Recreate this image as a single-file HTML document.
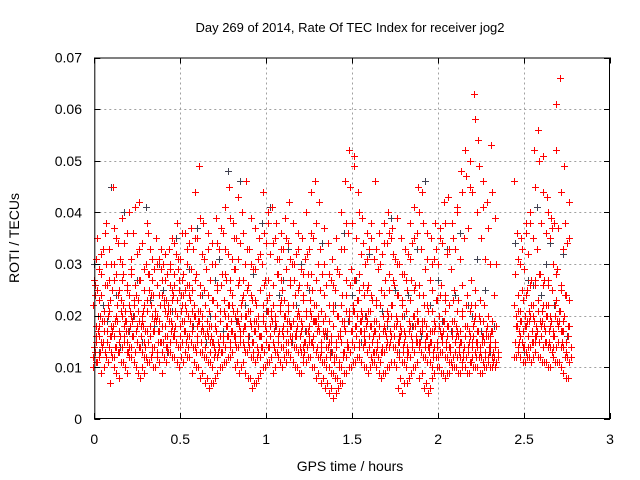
<!DOCTYPE html>
<html><head><meta charset="utf-8"><style>
body{margin:0;background:#fff}
svg{display:block;font-family:"Liberation Sans",sans-serif}
</style></head><body>
<svg id="chart" width="640" height="480" viewBox="0 0 640 480" xmlns="http://www.w3.org/2000/svg">
<rect width="640" height="480" fill="#fff"/>
<text x="350" y="32" font-size="13" text-anchor="middle" fill="#000">Day 269 of 2014, Rate Of TEC Index for receiver jog2</text>
<text x="350" y="471" font-size="14" text-anchor="middle" fill="#000">GPS time / hours</text>
<text transform="translate(19,238) rotate(-90)" font-size="14" text-anchor="middle" fill="#000">ROTI / TECUs</text>
<g id="grid"></g><g id="gray"></g><g id="red"></g><g id="axes"></g>
</svg>
<script>
const xTicks=[0,0.5,1,1.5,2,2.5,3];
const xTickLabels=["0","0.5","1","1.5","2","2.5","3"];
const yTicks=[0,0.01,0.02,0.03,0.04,0.05,0.06,0.07];
const yTickLabels=["0","0.01","0.02","0.03","0.04","0.05","0.06","0.07"];
const times=[0.000,0.025,0.050,0.075,0.100,0.125,0.150,0.175,0.200,0.225,0.250,0.275,0.300,0.325,0.350,0.375,0.400,0.425,0.450,0.475,0.500,0.525,0.550,0.575,0.600,0.625,0.650,0.675,0.700,0.725,0.750,0.775,0.800,0.825,0.850,0.875,0.900,0.925,0.950,0.975,1.000,1.025,1.050,1.075,1.100,1.125,1.150,1.175,1.200,1.225,1.250,1.275,1.300,1.325,1.350,1.375,1.400,1.425,1.450,1.475,1.500,1.525,1.550,1.575,1.600,1.625,1.650,1.675,1.700,1.725,1.750,1.775,1.800,1.825,1.850,1.875,1.900,1.925,1.950,1.975,2.000,2.025,2.050,2.075,2.100,2.125,2.150,2.175,2.200,2.225,2.250,2.275,2.300,2.325,2.450,2.475,2.500,2.525,2.550,2.575,2.600,2.625,2.650,2.675,2.700,2.725,2.750];
// ROTI values (milli-TECU) per epoch row
const rotiRed=[
[10,14,18,22,27,31,12],[11,16,20,25,29,13,35],[9,15,19,24,33,17,28],[12,17,21,38,26,14,30],[7,13,18,23,30,45,16],[10,14,22,27,35,19,12],[8,16,20,25,31,39,13],[11,15,19,28,34,17,22],[9,14,21,26,40,18,13],[12,16,23,29,36,11,20],
[10,15,19,24,32,42,17],[8,13,18,27,34,21,14],[9,12,17,22,30,38,15],[11,16,20,25,33,13,28],[10,14,19,24,29,35,17],[12,17,22,26,31,15,20],[9,15,21,27,30,18,24],[11,16,19,23,28,33,14],[13,18,24,29,35,16,21],[12,15,20,26,32,38,17],
[10,14,22,27,31,19,25],[11,17,21,28,36,15,24],[12,16,23,30,34,19,26],[9,14,20,25,33,44,17],[10,15,19,28,35,49,13],[8,13,17,24,32,38,21],[7,12,16,22,29,36,14],[6,11,15,21,27,34,18],[7,13,17,23,30,39,15],[9,14,19,26,33,16,22],
[10,15,20,28,36,41,13],[11,16,22,27,32,45,18],[12,17,21,25,31,38,14],[10,14,19,29,35,43,16],[9,15,23,27,34,40,18],[11,13,20,24,30,46,17],[8,14,18,26,33,39,21],[6,12,17,23,29,37,15],[7,13,16,22,31,35,19],[9,14,20,25,30,44,16],
[10,15,21,27,34,40,18],[11,16,19,24,32,41,14],[9,13,18,26,35,38,22],[12,17,23,28,31,36,15],[10,14,20,25,33,39,17],[11,15,19,29,34,42,13],[12,16,22,27,30,38,18],[10,14,21,24,32,36,16],[9,13,18,26,29,35,20],[11,15,17,23,31,40,14],
[12,16,20,28,33,44,17],[10,14,19,25,35,46,15],[8,12,17,22,30,42,19],[7,11,16,21,28,37,14],[6,10,14,20,26,34,17],[5,9,13,19,27,31,15],[4,8,12,18,25,35,22],[6,11,15,20,28,40,16],[7,13,17,24,33,46,19],[9,14,19,27,36,52,21],
[10,15,21,29,38,51,17],[11,16,23,27,35,44,18],[12,17,20,25,32,39,14],[10,15,19,24,30,36,16],[9,14,18,26,33,38,21],[11,13,17,23,31,46,15],[10,12,16,22,29,36,19],[8,14,18,25,32,38,13],[9,15,20,27,34,40,17],[10,16,22,28,35,37,14],
[11,14,19,26,31,39,18],[6,12,17,24,30,35,15],[5,11,16,23,28,33,20],[7,13,18,25,32,38,14],[9,14,20,27,34,41,16],[10,15,19,26,36,45,18],[8,13,17,24,33,44,15],[6,12,16,22,29,36,19],[5,11,15,21,27,35,14],[8,14,18,25,31,38,17],
[10,12,17,23,30,37,15],[9,13,19,26,34,42,16],[8,12,18,24,32,43,21],[9,11,16,22,29,38,14],[10,13,17,25,33,41,19],[9,12,15,23,31,48,16],[10,14,18,26,35,52,21],[9,13,16,24,37,50,18],[11,15,19,27,44,63,22],[10,14,17,25,40,54,20],
[9,12,16,23,35,46,19],[10,13,18,22,31,42,15],[11,14,17,20,30,53,16],[10,12,15,19,24,39,17],
[12,15,18,22,28,36,46],[13,16,19,24,30,35,21],[11,14,18,23,29,38,17],[12,16,20,25,32,40,19],[11,15,19,27,35,52,22],[13,17,21,26,33,56,16],[12,16,22,28,38,51,19],[11,15,20,27,36,43,18],[10,14,19,26,35,39,22],[12,16,23,30,38,61,17],[11,15,21,29,37,66,19],[10,14,20,25,33,49,17],[8,12,18,24,34,42,15]];
// second set of epochs, half a step later
const rotiRedB=[
[13,16,20,24,11,17,26,15],[12,15,19,23,28,14,18,32],[10,13,17,21,26,15,19,36],[11,14,18,22,27,16,20,33],[12,16,19,25,30,14,17,37],[9,13,17,20,24,15,28,34],[11,14,18,23,27,16,21,30],[10,15,17,21,25,13,19,36],[12,14,19,24,28,16,22,31],[11,13,18,22,26,15,20,41],
[9,14,16,21,27,18,23,33],[10,12,17,20,25,14,19,29],[11,15,18,23,28,16,21,36],[12,14,19,22,27,17,24,31],[10,13,17,21,26,15,20,30],[11,15,18,24,29,13,19,33],[12,16,20,23,27,14,22,32],[13,15,19,22,26,17,21,30],[12,16,21,25,28,18,23,34],[11,14,18,23,29,16,20,31],
[12,15,19,24,27,17,21,36],[13,16,20,25,30,14,22,33],[12,15,21,26,29,18,24,37],[11,14,18,22,27,16,20,35],[10,13,17,21,26,15,19,39],[9,12,16,20,25,14,18,31],[8,11,15,19,24,13,17,33],[7,10,14,18,23,12,16,30],[8,12,15,20,25,13,18,34],[10,13,16,21,26,15,19,37],
[11,14,18,23,28,16,21,33],[12,15,19,22,27,17,20,39],[13,16,20,24,29,15,22,35],[11,14,17,21,26,16,19,31],[10,15,18,22,27,14,20,36],[9,13,16,20,25,15,18,33],[8,12,15,21,24,13,19,30],[7,11,14,19,23,12,17,29],[8,12,16,20,25,14,18,32],[10,13,17,22,26,15,19,36],
[11,14,18,23,27,16,21,38],[12,15,17,21,26,14,20,34],[10,13,16,20,28,15,19,31],[11,14,18,22,27,16,21,33],[12,15,19,23,29,17,20,35],[13,16,18,21,26,15,22,31],[11,14,17,22,27,16,19,30],[10,13,16,20,25,14,18,33],[9,12,15,19,24,13,17,28],[11,14,18,21,26,15,20,32],
[12,15,19,23,28,16,21,36],[10,13,17,22,27,14,19,38],[9,12,15,20,25,13,18,33],[8,11,14,19,24,12,17,30],[7,10,13,17,22,12,16,28],[6,9,12,16,21,11,15,26],[5,8,11,15,20,10,14,29],[7,10,13,17,22,12,16,33],[9,12,15,19,24,14,18,38],[10,13,17,21,26,15,20,45],
[11,14,18,22,27,16,21,49],[12,15,19,23,28,17,20,40],[11,14,17,21,26,15,19,34],[10,13,16,20,25,14,18,31],[10,12,16,21,24,13,18,35],[11,13,15,19,23,14,17,33],[9,11,14,18,22,13,16,30],[9,13,16,20,24,14,17,34],[10,14,17,21,25,15,19,36],[11,14,18,22,27,16,20,32],
[10,13,16,20,24,15,18,30],[8,11,14,18,22,13,16,28],[7,10,13,17,21,12,15,27],[8,12,15,19,23,14,17,31],[10,13,16,20,25,15,18,35],[11,14,17,21,26,15,19,40],[9,12,15,19,24,14,18,38],[7,11,14,18,22,13,16,31],[6,10,13,17,21,12,15,30],[9,12,15,19,23,14,17,33],
[10,13,16,20,24,15,18,35],[9,12,15,19,23,14,17,38],[9,11,14,18,22,13,16,33],[10,12,15,19,23,13,17,35],[10,12,14,18,21,13,16,40],[9,11,13,17,20,12,15,44],[10,12,14,18,22,13,16,47],[9,11,14,17,21,12,15,45],[10,13,15,18,22,12,16,58],[10,12,14,17,20,13,15,49],
[9,11,13,16,19,12,15,41],[10,12,14,17,20,13,16,37],[10,12,13,16,19,11,15,44],[10,11,13,15,18,12,14,30],
[12,14,17,20,24,15,18,31],[12,15,17,21,25,14,19,33],[11,13,16,20,24,14,18,36],[12,14,17,21,26,15,19,38],[12,15,18,22,27,16,20,45],[12,15,18,23,28,16,21,50],[11,14,17,21,26,15,19,44],[11,14,17,22,27,15,20,40],[10,13,16,20,25,14,18,37],[11,14,18,22,28,15,20,52],[11,14,17,21,26,15,19,44],[9,12,15,19,24,13,17,38],[8,11,14,18,23,12,16,35]];
const rotiGray=[30,13,22,19,45,24,14,40,17,20,27,15,41,23,18,30,25,13,21,35,16,22,29,18,37,24,15,20,27,31,17,48,24,19,46,22,16,28,13,38,21,41,18,24,27,33,15,22,30,17,25,14,20,34,16,13,22,28,36,19,24,27,15,20,32,17,29,21,18,39,25,13,20,24,18,33,16,46,22,14,27,19,33,17,24,36,14,22,20,31,17,25,13,18,34,21,13,27,26,41,24,30,34,22,18,32,16];
const X0=94.3,X1=610,Y0=419,Y1=57.5;
const xs=v=>X0+(v-0)/(3-0)*(X1-X0);
const ys=v=>Y0-(v-0)/(0.07-0)*(Y0-Y1);
const NS="http://www.w3.org/2000/svg";
function mk(tag,attrs,parent){const e=document.createElementNS(NS,tag);for(const k in attrs)e.setAttribute(k,attrs[k]);parent.appendChild(e);return e;}
const grid=document.getElementById('grid'),axes=document.getElementById('axes');
xTicks.forEach((t,i)=>{const x=Math.round(xs(t))+0.5;
 if(i>0&&i<xTicks.length-1){const g=mk('line',{x1:x,x2:x,y1:Y1,y2:Y0,stroke:'#a0a0a0','stroke-dasharray':'2,3'},grid);
 
 }
 mk('line',{x1:x,x2:x,y1:Y0,y2:Y0-6,stroke:'#000'},axes);mk('line',{x1:x,x2:x,y1:Y1,y2:Y1+6,stroke:'#000'},axes);
 const l=mk('text',{x:xs(t),y:444,'font-size':14,'text-anchor':'middle',fill:'#000'},axes);l.textContent=xTickLabels[i];
 
 });
yTicks.forEach((t,i)=>{const y=Math.round(ys(t))+0.5;
 if(i>0&&i<yTicks.length-1){const g=mk('line',{x1:X0,x2:X1,y1:y,y2:y,stroke:'#a0a0a0','stroke-dasharray':'2,3'},grid);
 
 }
 mk('line',{x1:X0,x2:X0+6,y1:y,y2:y,stroke:'#000'},axes);mk('line',{x1:X1,x2:X1-6,y1:y,y2:y,stroke:'#000'},axes);
 const l=mk('text',{x:82,y:ys(t)+5,'font-size':14,'text-anchor':'end',fill:'#000'},axes);l.textContent=yTickLabels[i];
 
 });
const frame=mk('rect',{x:X0+0.5,y:Y1+0.5,width:X1-X0-1,height:Y0-Y1-1,fill:'none',stroke:'#000'},axes);


function plus(x,y,color,parent){return mk('path',{d:`M${x-3.5} ${y}h7M${x} ${y-3.5}v7`,stroke:color,'stroke-width':1,fill:'none'},parent);}
const gG=document.getElementById('gray'),gR=document.getElementById('red');
times.forEach((t,i)=>{
 const p=plus(Math.round(xs(t))+0.5,Math.round(ys(rotiGray[i]/1000))+0.5,'#404050',gG);
 
 
 rotiRed[i].forEach((v,k)=>{
  const q=plus(Math.round(xs(t)+(k%3-1)*1.5)+0.5,Math.round(ys(v/1000))+0.5,'#ff0000',gR);
  
  
 });
 rotiRedB[i].forEach((v,k)=>{
  const q=plus(Math.round(xs(t+0.0125)+(k%3-1)*1.5)+0.5,Math.round(ys(v/1000))+0.5,'#ff0000',gR);
  
  
 });
});
</script>
</body></html>
